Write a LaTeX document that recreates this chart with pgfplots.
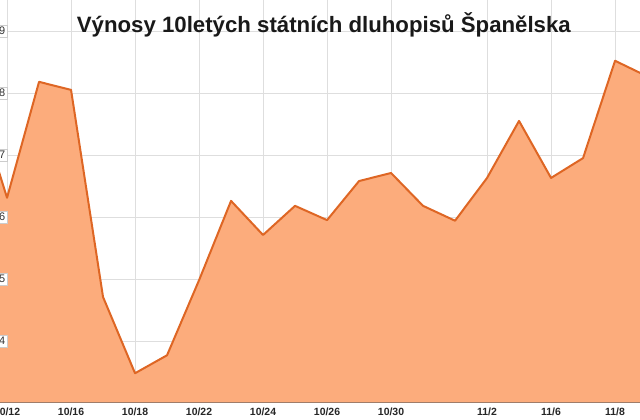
\documentclass[border=0pt]{standalone}
\usepackage{pgfplots}
\pgfplotsset{compat=1.18}
\usepackage{fontspec}
\setmainfont{Liberation Sans}
\definecolor{fillc}{RGB}{252,172,124}
\definecolor{linec}{RGB}{222,102,36}
\definecolor{gridc}{RGB}{222,222,222}
\definecolor{basec}{RGB}{160,125,105}
\begin{document}
\begin{tikzpicture}[lab/.style={anchor=east, xshift=7bp, font=\fontsize{11}{13}\selectfont, text=black!80, fill=white, draw=gray!40, inner sep=1.5bp}]
\begin{axis}[
 at={(0,17bp)}, anchor=south west,
 scale only axis, width=640bp, height=403bp,
 xmin=-0.22, xmax=19.78, ymin=5.3, ymax=5.95,
 xtick={0,2,4,6,8,10,12,15,17,19},
 xticklabels={10/12,10/16,10/18,10/22,10/24,10/26,10/30,11/2,11/6,11/8},
 ytick={5.4,5.5,5.6,5.7,5.8,5.9},
 yticklabels={},
 major tick length=0pt,
 grid=major, grid style={gridc, line width=1bp},
 axis line style={draw=none},
 xticklabel style={font=\bfseries\fontsize{10.5}{12}\selectfont, text=black!85, yshift=-1.5bp},
]
\addplot[fill=fillc, draw=none] coordinates {
(-1,5.797) (0,5.631) (1,5.818) (2,5.805) (3,5.471) (4,5.348) (5,5.377) (6,5.498) (7,5.626) (8,5.571) (9,5.618) (10,5.595) (11,5.658) (12,5.671) (13,5.618) (14,5.594) (15,5.663) (16,5.755) (17,5.663) (18,5.695) (19,5.852) (20,5.827)
} \closedcycle;
\addplot[linec, line width=2bp, line join=round] coordinates {
(-1,5.797) (0,5.631) (1,5.818) (2,5.805) (3,5.471) (4,5.348) (5,5.377) (6,5.498) (7,5.626) (8,5.571) (9,5.618) (10,5.595) (11,5.658) (12,5.671) (13,5.618) (14,5.594) (15,5.663) (16,5.755) (17,5.663) (18,5.695) (19,5.852) (20,5.827)
};
\draw[basec, line width=2bp] (rel axis cs:0,0) -- (rel axis cs:1,0);
\node[lab] at (axis cs:-0.22,5.4) {5,4};
\node[lab] at (axis cs:-0.22,5.5) {5,5};
\node[lab] at (axis cs:-0.22,5.6) {5,6};
\node[lab] at (axis cs:-0.22,5.7) {5,7};
\node[lab] at (axis cs:-0.22,5.8) {5,8};
\node[lab] at (axis cs:-0.22,5.9) {5,9};
\node[font=\bfseries\fontsize{22.3}{26}\selectfont, text=black!90] at (rel axis cs:0.506,0.938) {Výnosy 10letých státních dluhopisů Španělska};
\end{axis}
\pgfresetboundingbox
\useasboundingbox (0,0) rectangle (640bp,420bp);
\end{tikzpicture}
\end{document}
